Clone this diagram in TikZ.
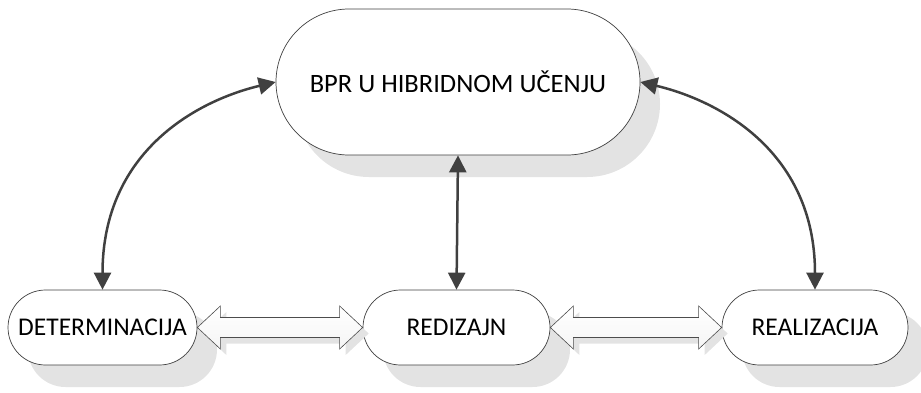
\documentclass[tikz,border=0pt]{standalone}
\usepackage{fontspec}
\setmainfont{Carlito}
\usetikzlibrary{shadows,arrows.meta,calc}
\definecolor{arrowgray}{HTML}{404040}
\definecolor{shadowgray}{HTML}{E3E3E3}
\begin{document}
\begin{tikzpicture}[x=1pt,y=1pt,
  stadium/.style={draw=black!75, line width=0.7pt, fill=white, rectangle,
    inner sep=0pt, drop shadow={shadow xshift=20pt, shadow yshift=-22pt, fill=shadowgray, opacity=1}},
  smallbox/.style={stadium, minimum width=#1, minimum height=75pt, rounded corners=37.5pt, font=\fontsize{25.5}{29}\selectfont},
  link/.style={draw=arrowgray, line width=2.5pt, {Triangle[length=17pt,width=17pt]}-{Triangle[length=17pt,width=17pt]}, fill=none},
  blockarrow/.style={draw=black!70, line width=0.6pt, top color=white, bottom color=gray!8,
    drop shadow={shadow xshift=6pt, shadow yshift=-6pt, fill=shadowgray, opacity=1}}
]
\useasboundingbox (0,0) rectangle (921,-392);

\node[stadium, minimum width=364pt, minimum height=146pt, rounded corners=73pt,
  font=\fontsize{26.5}{31}\selectfont] (top) at (458,-82) {BPR U HIBRIDNOM UČENJU};
\node[smallbox=189pt] (det) at (102.5,-327.5) {DETERMINACIJA};
\node[smallbox=187pt] (red) at (456.5,-327.5) {REDIZAJN};
\node[smallbox=186pt] (rea) at (815,-327.5) {REALIZACIJA};

% block arrows
\path[blockarrow] (det.east) -- ($(det.east)+(23,21.5)$) -- ($(det.east)+(23,10)$)
  -- ($(red.west)+(-23,10)$) -- ($(red.west)+(-23,21.5)$) -- (red.west)
  -- ($(red.west)+(-23,-21.5)$) -- ($(red.west)+(-23,-10)$)
  -- ($(det.east)+(23,-10)$) -- ($(det.east)+(23,-21.5)$) -- cycle;
\path[blockarrow] (red.east) -- ($(red.east)+(23,21.5)$) -- ($(red.east)+(23,10)$)
  -- ($(rea.west)+(-23,10)$) -- ($(rea.west)+(-23,21.5)$) -- (rea.west)
  -- ($(rea.west)+(-23,-21.5)$) -- ($(rea.west)+(-23,-10)$)
  -- ($(red.east)+(23,-10)$) -- ($(red.east)+(23,-21.5)$) -- cycle;

% curved connectors
\draw[link] (det.north) .. controls ($(det.north)+(0,140)$) and ($(top.west)+(-76,-18)$) .. (top.west);
\draw[link] (rea.north) .. controls ($(rea.north)+(0,140)$) and ($(top.east)+(76,-18)$) .. (top.east);
\draw[link] (top.south) -- (red.north);
\end{tikzpicture}
\end{document}
